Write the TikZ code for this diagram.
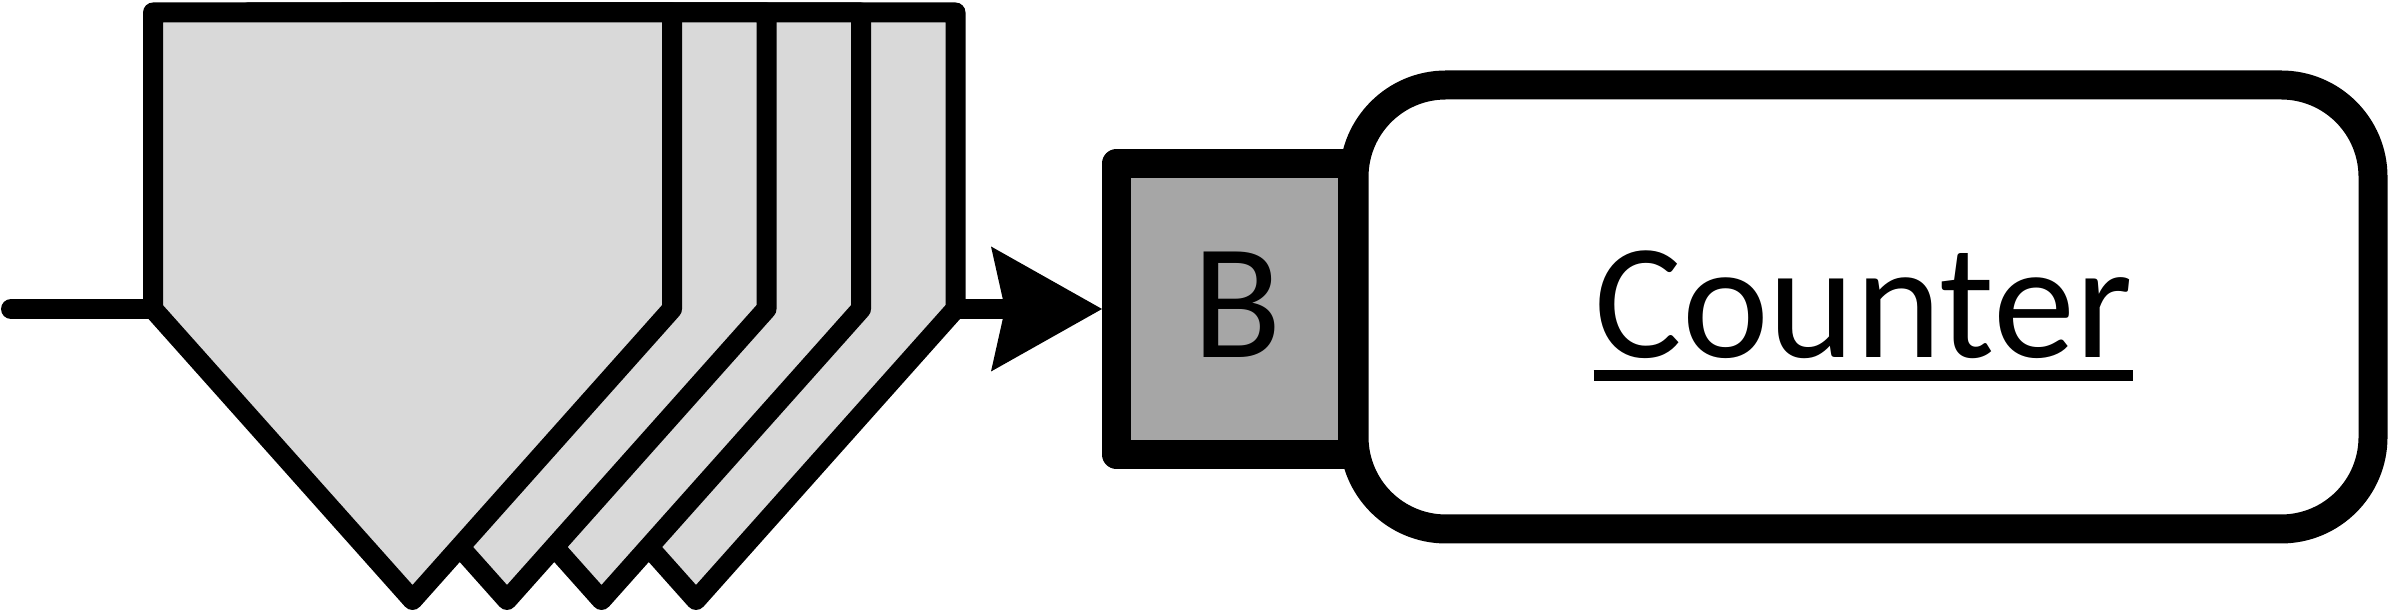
\documentclass[tikz,border=0pt]{standalone}
\usepackage{fontspec}
\setmainfont{Carlito}
\usetikzlibrary{arrows.meta,positioning}
\definecolor{tagfill}{HTML}{D9D9D9}
\definecolor{portfill}{HTML}{A6A6A6}
\tikzset{
  tagshape/.style={draw,fill=tagfill,line width=0.2cm,line join=round},
  wire/.style={line width=0.2cm,line cap=round},
  portbox/.style={rectangle,draw,fill=portfill,line width=0.29cm,line join=round,minimum width=2.36cm,minimum height=2.91cm,inner sep=0pt},
  blockbox/.style={rectangle,draw,fill=white,line width=0.29cm,rounded corners=0.92cm,minimum width=10.19cm,minimum height=4.44cm,inner sep=0pt},
  bigtext/.style={anchor=base,inner sep=0pt,font=\fontsize{46.8}{56}\selectfont}
}
\begin{document}
\begin{tikzpicture}
    \useasboundingbox (0,0) rectangle (23.88,6.13);
    % stacked input tags, back to front
    \foreach \k in {3,2,1,0}{
        \pgfmathsetmacro{\tagl}{1.53+0.945*\k}
        \pgfmathsetmacro{\tagr}{\tagl+5.19}
        \pgfmathsetmacro{\tagm}{\tagl+2.595}
        \draw[tagshape] (\tagl,3.04) -- (\tagl,6.005) -- (\tagr,6.005) -- (\tagr,3.04) -- (\tagm,0.13) -- cycle;
        \coordinate (tag\k w) at (\tagl,3.04);
        \coordinate (tag\k e) at (\tagr,3.04);
    }

    % Counter block with its port
    \node[blockbox] (counter) at (18.635,3.06) {};
    \node[portbox] (port) at (12.345,3.04) {};
    \node[bigtext] (portlabel) at (12.37,2.55) {B};
    \node[bigtext] (cntlabel) at (18.635,2.55) {Counter};
    \draw[line width=0.11cm] ([yshift=-0.175cm]cntlabel.base west) -- ([yshift=-0.175cm]cntlabel.base east);

    % wires
    \coordinate (feed) at (0.11,3.04);
    \draw[wire] (feed) -- (tag0w);
    \draw[wire,-{Stealth[length=1.11cm,width=1.25cm,inset=0.14cm,line width=0pt]}] (tag3e) -- (port.west);
\end{tikzpicture}
\end{document}
